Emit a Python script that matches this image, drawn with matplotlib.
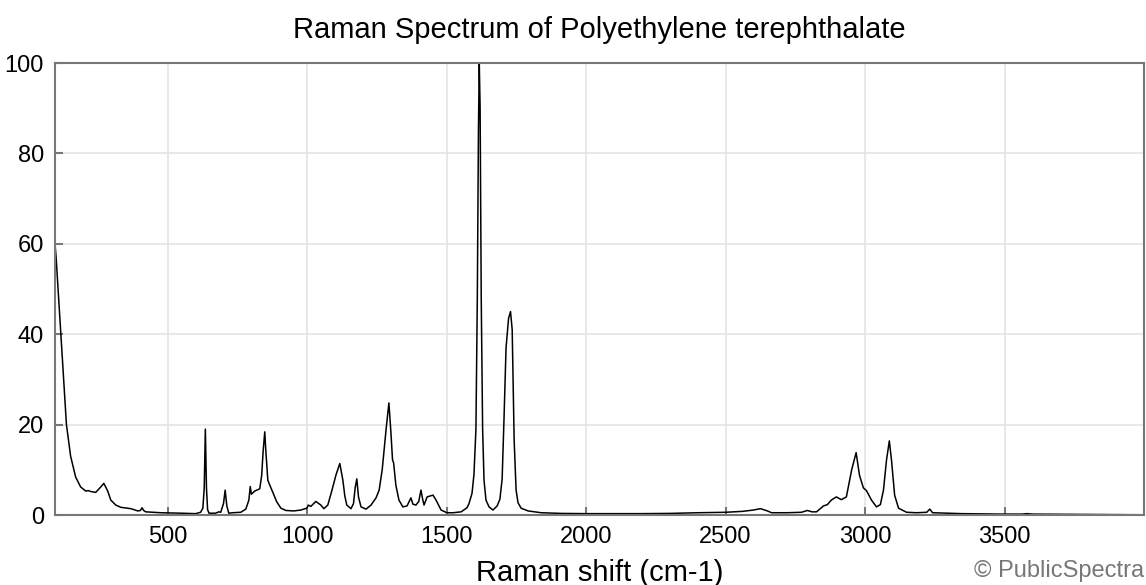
import numpy as np
import matplotlib.pyplot as plt

plt.rcParams['font.family'] = ['Liberation Sans', 'DejaVu Sans']

# Raman shift (cm-1) and intensity
shift = [96, 100, 116, 127, 137, 152, 170, 188, 206, 215, 224, 242, 260, 271, 285, 296, 314, 332, 368, 393,
         402, 408, 414, 421, 475, 547, 600, 618, 626, 631, 635, 639, 643, 648, 672, 683, 690, 700, 706, 712,
         719, 733, 762, 780, 791, 796, 800, 812, 830, 837, 842, 848, 852, 859, 866, 877, 891, 906, 924, 952,
         977, 999, 1004, 1013, 1031, 1049, 1060, 1074, 1089, 1103, 1117, 1128, 1135, 1142, 1157, 1166, 1172,
         1178, 1184, 1193, 1211, 1229, 1247, 1258, 1269, 1283, 1293, 1300, 1306, 1310, 1318, 1329, 1343, 1358,
         1372, 1379, 1390, 1400, 1408, 1414, 1419, 1430, 1451, 1462, 1480, 1501, 1523, 1552, 1573, 1580, 1591,
         1598, 1605, 1610, 1614, 1617, 1620, 1624, 1629, 1634, 1641, 1652, 1666, 1681, 1691, 1699, 1706, 1713,
         1722, 1729, 1735, 1742, 1749, 1756, 1767, 1792, 1839, 1911, 2000, 2100, 2200, 2300, 2400, 2500, 2560,
         2600, 2625, 2650, 2665, 2720, 2772, 2793, 2810, 2826, 2851, 2865, 2879, 2897, 2915, 2933, 2952, 2968,
         2980, 2994, 3005, 3023, 3041, 3055, 3066, 3077, 3087, 3095, 3106, 3120, 3149, 3185, 3221, 3232, 3242,
         3346, 3490, 3562, 3580, 3600, 3851, 4000]
intensity = [60, 57, 41, 30, 20, 13, 8.4, 6.2, 5.3, 5.4, 5.2, 5.0, 6.2, 7.0, 5.3, 3.3, 2.2, 1.7, 1.4, 0.9,
             1.0, 1.6, 1.0, 0.7, 0.5, 0.4, 0.3, 0.6, 1.5, 6, 19.0, 6, 1.2, 0.4, 0.4, 0.7, 0.6, 2.5, 5.5, 2.0,
             0.4, 0.5, 0.6, 1.3, 3.3, 6.3, 4.6, 5.3, 5.8, 8.8, 14, 18.4, 14, 7.7, 6.6, 5.0, 2.9, 1.5, 1.0, 0.9,
             1.1, 1.5, 2.2, 1.9, 3.0, 2.2, 1.4, 2.2, 5.5, 8.8, 11.4, 7.7, 4.2, 2.2, 1.4, 2.5, 6,
             8.0, 4, 1.8, 1.3, 2.2, 3.8, 5.5, 10, 19, 24.8, 18.5, 12.2, 11.5, 6.6, 3.3, 1.8, 2.0,
             3.8, 2.4, 2.2, 3.0, 5.5, 3.5, 2.2, 4.0, 4.4, 3.3, 1.1, 0.5, 0.5, 0.7, 1.6, 2.5, 4.8,
             9, 19, 48, 85, 100, 90, 48, 19, 7.7, 3.3, 1.8, 1.1, 2.0, 3.5, 8, 22, 37,
             43.5, 45, 41, 16.6, 5.5, 2.7, 1.5, 0.9, 0.5, 0.35, 0.3, 0.3, 0.3, 0.35, 0.5, 0.6, 0.8,
             1.1, 1.4, 0.9, 0.5, 0.5, 0.6, 1.0, 0.7, 0.7, 2.0, 2.3, 3.3, 4.0, 3.4, 4.0, 10, 13.8,
             8.8, 6.0, 5.4, 3.3, 1.8, 2.3, 5.5, 12.2, 16.4, 12, 4.4, 1.5, 0.6, 0.5, 0.6, 1.3, 0.5,
             0.3, 0.2, 0.2, 0.3, 0.2, 0.1, 0.05]

x_ticks = [500, 1000, 1500, 2000, 2500, 3000, 3500]
y_ticks = [0, 20, 40, 60, 80, 100]

fig = plt.figure(figsize=(11.46, 5.85), dpi=100)
ax = fig.add_axes([55 / 1146, 70 / 585, 1089 / 1146, 452 / 585])

ax.plot(shift, intensity, color="black", lw=1.1)
ax.set_xlim(96, 4000)
ax.set_ylim(0, 100)
ax.set_xticks(x_ticks)
ax.set_yticks(y_ticks)
ax.grid(True, color="#e4e4e4", lw=1.2)
ax.set_axisbelow(True)
for s in ax.spines.values():
    s.set_color("#777777")
    s.set_linewidth(1.5)
ax.tick_params(direction="in", length=6, width=1.5, color="#777777", labelsize=17, pad=8)

ax.set_xlabel("Raman shift (cm-1)", fontsize=21, labelpad=8)
ax.set_title("Raman Spectrum of Polyethylene terephthalate", fontsize=21, pad=18)
fig.text(1144 / 1146, 1 - 571 / 585, "© PublicSpectra", ha="right", va="center",
         fontsize=17, color="#777777")

fig.savefig("out.png", dpi=100)
